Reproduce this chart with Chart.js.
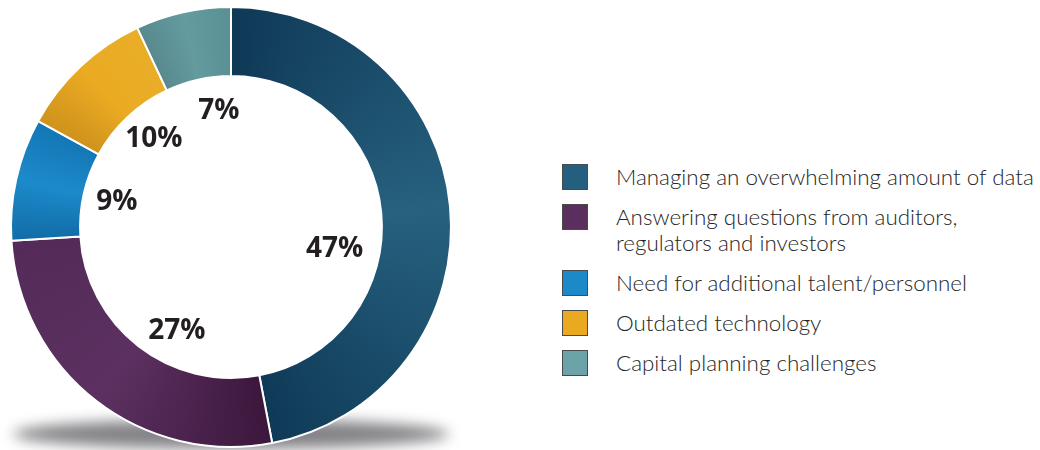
<!DOCTYPE html>
<html>
<head>
<meta charset="utf-8">
<script src="https://cdn.jsdelivr.net/npm/chart.js@4/dist/chart.umd.min.js"></script>
<style>
  html, body { margin: 0; padding: 0; background: #fff; }
  #wrap { position: relative; width: 1040px; height: 450px; }
  #chartBox { position: absolute; left: 0; top: 0; width: 462px; height: 450px; }
  #legend {
    position: absolute; left: 562px; top: 164px;
    list-style: none; margin: 0; padding: 0;
    font-family: Lato, 'Open Sans', sans-serif; font-size: 22.4px; font-weight: 300; color: #262626;
    display: flex; flex-direction: column; gap: 14px;
  }
  #legend li { display: flex; align-items: flex-start; line-height: 26px; }
  #legend .box {
    width: 24px; height: 24px; border: 1px solid #4a4a4a; flex: none; margin-right: 28px;
  }
</style>
</head>
<body>
<div id="wrap">
  <div id="chartBox"><canvas id="donut"></canvas></div>
  <ul id="legend"></ul>
</div>
<script>
// data
const categories = [
  'Managing an overwhelming amount of data',
  ['Answering questions from auditors,', 'regulators and investors'],
  'Need for additional talent/personnel',
  'Outdated technology',
  'Capital planning challenges'
];
const shares = [47, 27, 9, 10, 7];
const pctLabels = ['47%', '27%', '9%', '10%', '7%'];

// colours
const legendColors = ['#255f80', '#5a2f5e', '#1c89c9', '#e9aa22', '#6ba3a9'];
const shadeStops = [
  ['#0f3956', '#26617f', '#0f3a57'],
  ['#3c173c', '#5c3161', '#532a58'],
  ['#116da7', '#1c8aca', '#1477b5'],
  ['#cf921c', '#eaab22', '#e9ad27'],
  ['#58898d', '#639b9f', '#5a9095']
];

// label placement inside the hole: angle nudge (deg) and radius ratio of inner radius
const labelTurn = [16.8, -10, 0, 2.3, 6.7];
const labelDepth = [0.70, 0.77, 0.775, 0.78, 0.78];

const total = shares.reduce((a, b) => a + b, 0);

function segmentFill(context) {
  const chart = context.chart;
  const area = chart.chartArea;
  const i = context.dataIndex;
  if (!area || i === undefined) return legendColors[i] || '#999';
  const cx = (area.left + area.right) / 2;
  const cy = (area.top + area.bottom) / 2;
  let before = 0;
  for (let k = 0; k < i; k++) before += shares[k];
  const frac = shares[i] / total;
  const start = -Math.PI / 2 + (before / total) * Math.PI * 2;
  const g = chart.ctx.createConicGradient(start, cx, cy);
  const s = shadeStops[i];
  g.addColorStop(0, s[0]);
  g.addColorStop(frac / 2, s[1]);
  g.addColorStop(frac, s[2]);
  g.addColorStop(Math.min(1, frac + 0.01), s[2]);
  g.addColorStop(1, s[0]);
  return g;
}

// soft grey shadow under the ring
const groundShadow = {
  id: 'groundShadow',
  beforeDatasetsDraw(chart) {
    const arc = chart.getDatasetMeta(0).data[0];
    if (!arc) return;
    const { x, y, outerRadius } = arc.getProps(['x', 'y', 'outerRadius'], true);
    const ctx = chart.ctx;
    ctx.save();
    ctx.filter = 'blur(7px)';
    ctx.fillStyle = 'rgba(100,100,105,0.8)';
    ctx.beginPath();
    ctx.ellipse(x, y + outerRadius - 13, outerRadius * 0.99, 15, 0, 0, Math.PI * 2);
    ctx.fill();
    ctx.restore();
  }
};

// percentage labels inside the hole
const innerLabels = {
  id: 'innerLabels',
  afterDatasetsDraw(chart) {
    const ctx = chart.ctx;
    ctx.save();
    ctx.font = 'bold 28px "Open Sans", sans-serif';
    ctx.fillStyle = '#231f20';
    ctx.textAlign = 'center';
    ctx.textBaseline = 'middle';
    chart.getDatasetMeta(0).data.forEach((arc, i) => {
      const p = arc.getProps(['x', 'y', 'startAngle', 'endAngle', 'innerRadius'], true);
      const mid = (p.startAngle + p.endAngle) / 2 + labelTurn[i] * Math.PI / 180;
      const r = p.innerRadius * labelDepth[i];
      ctx.fillText(pctLabels[i], p.x + Math.cos(mid) * r, p.y + Math.sin(mid) * r + 1);
    });
    ctx.restore();
  }
};

new Chart(document.getElementById('donut'), {
  type: 'doughnut',
  data: {
    labels: categories.map(c => Array.isArray(c) ? c.join(' ') : c),
    datasets: [{
      data: shares,
      backgroundColor: segmentFill,
      borderColor: '#ffffff',
      borderWidth: 2,
      hoverOffset: 0
    }]
  },
  options: {
    responsive: true,
    maintainAspectRatio: false,
    animation: false,
    events: [],
    cutout: '68.6%',
    layout: { padding: { top: 6, bottom: 2 } },
    plugins: {
      legend: { display: false },
      tooltip: { enabled: false }
    }
  },
  plugins: [groundShadow, innerLabels]
});

// html legend
const legendEl = document.getElementById('legend');
categories.forEach((c, i) => {
  const li = document.createElement('li');
  const box = document.createElement('span');
  box.className = 'box';
  box.style.background = legendColors[i];
  const txt = document.createElement('span');
  txt.innerHTML = (Array.isArray(c) ? c : [c]).join('<br>');
  li.appendChild(box);
  li.appendChild(txt);
  legendEl.appendChild(li);
});
</script>
</body>
</html>
